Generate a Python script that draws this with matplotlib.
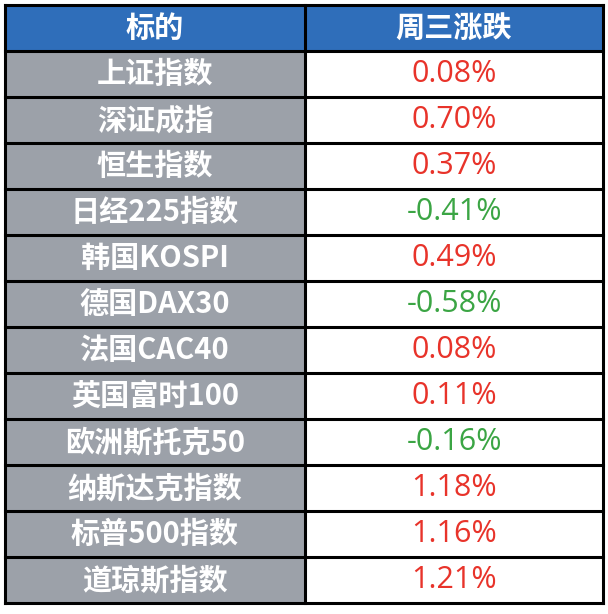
import matplotlib
matplotlib.use("Agg")
import matplotlib.pyplot as plt
from matplotlib.patches import Rectangle

plt.rcParams['font.family'] = ['Noto Sans CJK SC', 'DejaVu Sans']

headers = ["标的", "周三涨跌"]
names = ["上证指数", "深证成指", "恒生指数", "日经225指数", "韩国KOSPI", "德国DAX30",
         "法国CAC40", "英国富时100", "欧洲斯托克50", "纳斯达克指数", "标普500指数", "道琼斯指数"]
changes = [0.08, 0.70, 0.37, -0.41, 0.49, -0.58, 0.08, 0.11, -0.16, 1.18, 1.16, 1.21]

fig = plt.figure(figsize=(6.08, 6.14), dpi=100)
ax = fig.add_axes([0, 0, 1, 1])
ax.set_xlim(0, 608)
ax.set_ylim(614, 0)
ax.axis("off")

x0, xm, x1 = 5, 305, 603
y0, y1 = 5, 603
n = len(names) + 1
h = (y1 - y0) / n

ax.add_patch(Rectangle((x0, y0), x1 - x0, h, color="#2F6EBA"))
ax.text((x0 + xm) / 2, y0 + h / 2, headers[0], color="white", fontsize=21, weight="heavy", ha="center", va="center")
ax.text((xm + x1) / 2, y0 + h / 2, headers[1], color="white", fontsize=21, weight="heavy", ha="center", va="center")

for i, (name, v) in enumerate(zip(names, changes)):
    y = y0 + (i + 1) * h
    ax.add_patch(Rectangle((x0, y), xm - x0, h, color="#9CA1A9"))
    ax.text((x0 + xm) / 2, y + h / 2, name, color="white", fontsize=21, weight="heavy", ha="center", va="center")
    col = "#E8332A" if v >= 0 else "#3BA544"
    ax.text((xm + x1) / 2, y + h / 2, f"{v:.2f}%", color=col, fontsize=22, ha="center", va="center",
            family=["Open Sans", "DejaVu Sans"])

for i in range(n + 1):
    ax.plot([x0, x1], [y0 + i * h] * 2, color="black", lw=2.2)
for x in (x0, xm, x1):
    ax.plot([x, x], [y0, y1], color="black", lw=2.2)

fig.savefig("out.png", dpi=100)
